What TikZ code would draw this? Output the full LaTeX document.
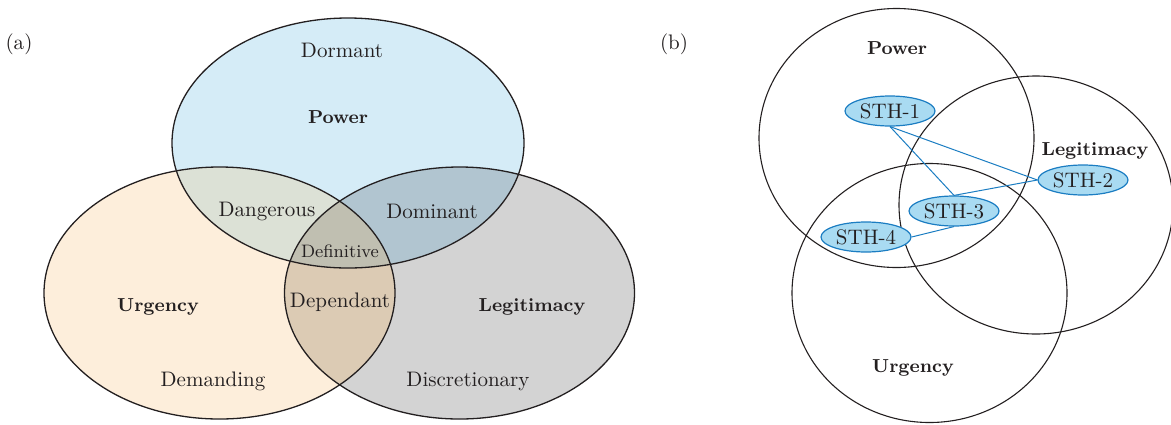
\documentclass[tikz,border=0pt]{standalone}
\usetikzlibrary{shapes.geometric,positioning}
\definecolor{powfill}{HTML}{D5ECF7}
\definecolor{urgfill}{HTML}{FDEEDB}
\definecolor{legfill}{HTML}{D3D3D3}
\definecolor{pufill}{HTML}{DCE1D6}
\definecolor{plfill}{HTML}{B1C5D0}
\definecolor{ulfill}{HTML}{DCCBB4}
\definecolor{pulfill}{HTML}{C0BFB1}
\definecolor{sthfill}{HTML}{A9DBF2}
\definecolor{sthline}{HTML}{1B7DC2}
\definecolor{inkgray}{HTML}{231F20}
\tikzset{
  zone/.style={text=inkgray,font=\fontsize{10.5}{12}\selectfont},
  small zone/.style={text=inkgray,font=\fontsize{9}{11}\selectfont},
  head/.style={text=inkgray,font=\fontsize{9.4}{11}\selectfont\bfseries},
  rim/.style={draw=inkgray,line width=0.65pt},
  sth/.style={ellipse,draw=sthline,fill=sthfill,line width=0.6pt,
    minimum width=45pt,minimum height=15pt,inner sep=0pt,
    text=inkgray,font=\fontsize{10.5}{12}\selectfont},
  link/.style={draw=sthline,line width=0.5pt}
}
\begin{document}
\begin{tikzpicture}[x=0.5pt,y=-0.5pt]
\useasboundingbox (0,0) rectangle (1171,424);
% (a)
\node[zone] (taga) at (19,44) {(a)};
\coordinate (P) at (348,143);
\coordinate (U) at (219.5,293);
\coordinate (L) at (459.5,293);
\fill[powfill] (P) ellipse [x radius=176, y radius=125];
\fill[urgfill] (U) ellipse [x radius=175.5, y radius=126];
\fill[legfill] (L) ellipse [x radius=175, y radius=126];
\begin{scope}
\clip (P) ellipse [x radius=176, y radius=125];
\fill[pufill] (U) ellipse [x radius=175.5, y radius=126];
\fill[plfill] (L) ellipse [x radius=175, y radius=126];
\end{scope}
\begin{scope}
\clip (U) ellipse [x radius=175.5, y radius=126];
\fill[ulfill] (L) ellipse [x radius=175, y radius=126];
\clip (P) ellipse [x radius=176, y radius=125];
\fill[pulfill] (L) ellipse [x radius=175, y radius=126];
\end{scope}
\draw[rim] (P) ellipse [x radius=176, y radius=125];
\draw[rim] (U) ellipse [x radius=175.5, y radius=126];
\draw[rim] (L) ellipse [x radius=175, y radius=126];
\node[zone] (dormant) at (342,50) {Dormant};
\node[head] (powa) at (338,117) {Power};
\node[zone] (dangerous) at (267,211) {Dangerous};
\node[zone] (dominant) at (432,211) {Dominant};
\node[small zone] (definitive) at (340,251) {Definitive};
\node[zone] (dependant) at (340,302) {Dependant};
\node[head] (urga) at (158,307) {Urgency};
\node[head] (lega) at (532,307) {Legitimacy};
\node[zone] (demanding) at (213,381) {Demanding};
\node[zone] (discretionary) at (468,381) {Discretionary};
% (b)
\node[zone] (tagb) at (674,44) {(b)};
\draw[rim,line width=0.55pt] (896.5,138) ellipse [x radius=137.5, y radius=129.5];
\draw[rim,line width=0.55pt] (1036,205) ellipse [x radius=137, y radius=129];
\draw[rim,line width=0.55pt] (929.5,293) ellipse [x radius=137.5, y radius=129.5];
\node[head] (powb) at (897,48) {Power};
\node[head] (legb) at (1095,151) {Legitimacy};
\node[head] (urgb) at (913,368) {Urgency};
\node[sth] (s1) at (890,111) {STH-1};
\node[sth] (s2) at (1083,180) {STH-2};
\node[sth] (s3) at (954,211) {STH-3};
\node[sth] (s4) at (866,237) {STH-4};
\draw[link] (s1.south) -- (s2.west);
\draw[link] (s1.south) -- (s3.north);
\draw[link] (s3.north) -- (s2.west);
\draw[link] (s4.east) -- (s3.south);
\end{tikzpicture}
\end{document}
